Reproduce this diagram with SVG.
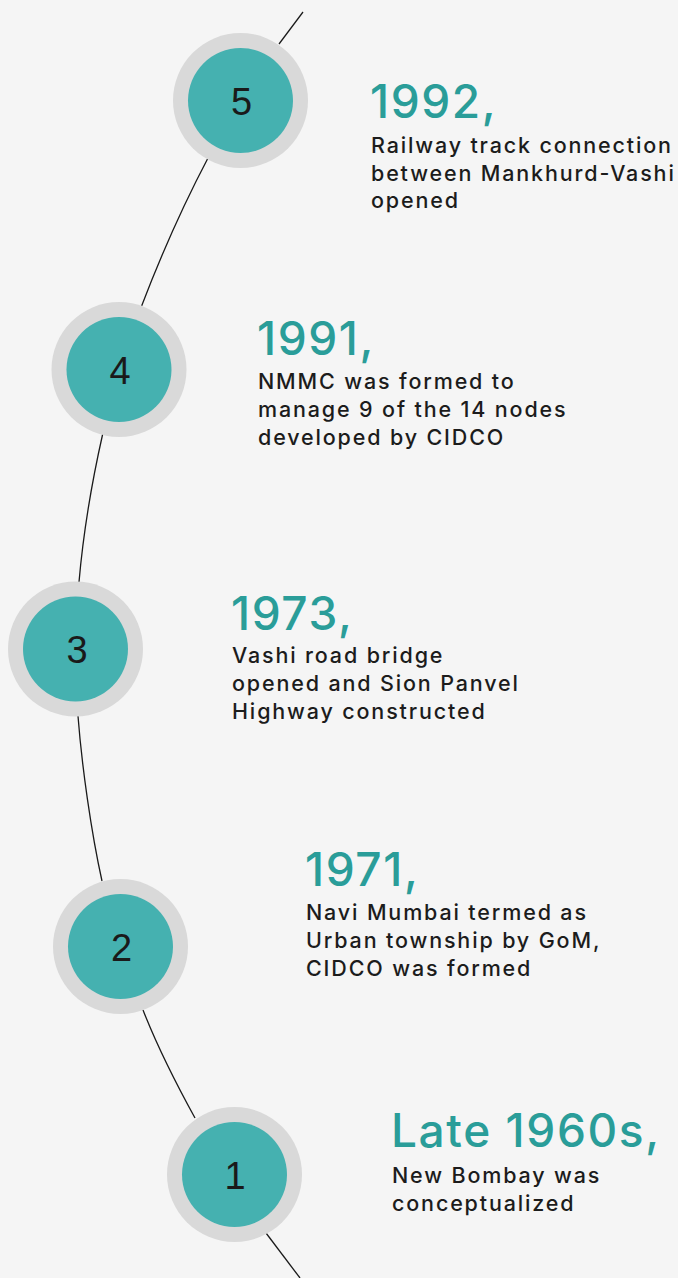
<svg xmlns="http://www.w3.org/2000/svg" width="678" height="1278" viewBox="0 0 678 1278">
  <style>
    .ring { fill: #d9d9d9; }
    .core { fill: #45b1b0; }
    .num { font-family: "Liberation Sans", Arial, sans-serif; font-size: 38px; fill: #1a1a1a; text-anchor: middle; }
    .year { font-family: Inter, "Open Sans", sans-serif; font-size: 46px; font-weight: 500; fill: #2a9d99; letter-spacing: 1.6px; }
    .body { font-family: Inter, "Open Sans", sans-serif; font-size: 21.5px; font-weight: 500; fill: #1c1c1c; letter-spacing: 1.85px; }
    .link { fill: none; stroke: #1a1a1a; stroke-width: 1.3; }
  </style>
  <rect width="678" height="1278" fill="#f5f5f5"/>

  <!-- timeline curve between the milestones -->
  <g id="connectors">
    <path class="link" d="M303,12 L279,44"/>
    <path class="link" d="M208,158 C185.1,201.6 159.3,259.7 141.7,305.7"/>
    <path class="link" d="M102.7,434 C92.3,480 83.1,535 79,582"/>
    <path class="link" d="M78,716 C81.8,765.8 91.2,832 102,881"/>
    <path class="link" d="M143,1010 C158.5,1049.5 174.5,1080.8 195,1118"/>
    <path class="link" d="M266,1233 L300,1278"/>
  </g>

  <g id="node-5">
    <circle class="ring" cx="240.5" cy="100.5" r="67.5"/>
    <circle class="core" cx="240.5" cy="100.5" r="52.5"/>
    <text class="num" x="241.5" y="115">5</text>
    <text class="year" x="370" y="118">1992,</text>
    <text class="body" x="371" y="153">Railway track connection</text>
    <text class="body" x="371" y="181">between Mankhurd-Vashi</text>
    <text class="body" x="371" y="208">opened</text>
  </g>

  <g id="node-4">
    <circle class="ring" cx="119" cy="369.5" r="67.5"/>
    <circle class="core" cx="119" cy="369.5" r="52.5"/>
    <text class="num" x="120" y="384">4</text>
    <text class="year" x="257" y="355">1991,</text>
    <text class="body" x="258" y="389">NMMC was formed to</text>
    <text class="body" x="258" y="417">manage 9 of the 14 nodes</text>
    <text class="body" x="258" y="445">developed by CIDCO</text>
  </g>

  <g id="node-3">
    <circle class="ring" cx="75.5" cy="649" r="67.5"/>
    <circle class="core" cx="75.5" cy="649" r="52.5"/>
    <text class="num" x="77" y="663">3</text>
    <text class="year" x="231" y="630">1973,</text>
    <text class="body" x="232" y="663">Vashi road bridge</text>
    <text class="body" x="232" y="691">opened and Sion Panvel</text>
    <text class="body" x="232" y="719">Highway constructed</text>
  </g>

  <g id="node-2">
    <circle class="ring" cx="120.5" cy="946.5" r="67.5"/>
    <circle class="core" cx="120.5" cy="946.5" r="52.5"/>
    <text class="num" x="121.5" y="960.5">2</text>
    <text class="year" x="305" y="886">1971,</text>
    <text class="body" x="306" y="920">Navi Mumbai termed as</text>
    <text class="body" x="306" y="948">Urban township by GoM,</text>
    <text class="body" x="306" y="976">CIDCO was formed</text>
  </g>

  <g id="node-1">
    <circle class="ring" cx="234.5" cy="1174.5" r="67.5"/>
    <circle class="core" cx="234.5" cy="1174.5" r="52.5"/>
    <text class="num" x="235" y="1189">1</text>
    <text class="year" x="391" y="1147">Late 1960s,</text>
    <text class="body" x="392" y="1183">New Bombay was</text>
    <text class="body" x="392" y="1211">conceptualized</text>
  </g>
</svg>
